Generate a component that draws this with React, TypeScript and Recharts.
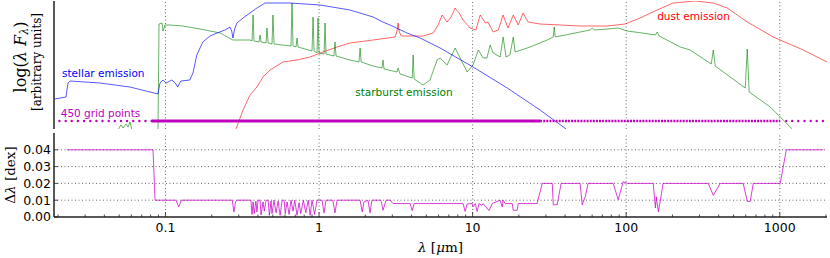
import React from 'react';
import { LineChart, Line, XAxis, YAxis, ReferenceLine, ReferenceDot } from 'recharts';

// wavelength axis in micron (log scale)
const lambdaRange: [number, number] = [0.0188, 2030];
const lambdaTicks = [
  0.02, 0.03, 0.04, 0.05, 0.06, 0.07, 0.08, 0.09, 0.1, 0.2, 0.3, 0.4, 0.5, 0.6, 0.7, 0.8, 0.9, 1, 2, 3, 4, 5, 6,
  7, 8, 9, 10, 20, 30, 40, 50, 60, 70, 80, 90, 100, 200, 300, 400, 500, 600, 700, 800, 900, 1000, 2000,
];
const decades = [0.1, 1, 10, 100, 1000];

// top panel: log(lambda F_lambda), arbitrary units
const fluxRange: [number, number] = [0, 12.8];
const stellar: [number, number][] = [
  [0.019, 3.0], [0.0225, 3.2], [0.0232, 4.6], [0.0239, 4.8], [0.0374, 4.6], [0.0587, 4.2], [0.0894, 3.5],
  [0.0921, 4.6], [0.0964, 4.9], [0.101, 4.6], [0.104, 4.7], [0.11, 4.9], [0.116, 4.6], [0.12, 4.2], [0.126, 4.8],
  [0.144, 4.9], [0.151, 5.6], [0.16, 7.4], [0.175, 8.7], [0.195, 9.3], [0.217, 9.6], [0.244, 9.9], [0.263, 10.2],
  [0.27, 9.8], [0.275, 9.1], [0.282, 10.0], [0.292, 10.6], [0.32, 11.1], [0.355, 11.6], [0.394, 12.1],
  [0.445, 12.6], [0.647, 12.6], [1.015, 12.4], [1.59, 11.9], [2.25, 11.2], [2.6, 10.7], [2.9, 10.4], [3.74, 9.6],
  [4.55, 9.1], [6.14, 8.1], [10.07, 6.2], [16.8, 4.1], [27.5, 1.9], [40.6, 0],
];
const starburst: [number, number][] = [
  [0.049, -0.1], [0.0513, 0.4], [0.0529, 0.1], [0.0553, 0.5], [0.057, 0.2], [0.0587, 0.7], [0.0605, -0.1],
  [0.0894, -0.2], [0.0908, 10.5], [0.0949, 10.6], [0.0964, 9.8], [0.0993, 10.4], [0.107, 10.4], [0.13, 10.3],
  [0.168, 10.0], [0.227, 9.6], [0.275, 8.9], [0.355, 8.9], [0.366, 8.8], [0.372, 11.4], [0.377, 8.8],
  [0.407, 8.7], [0.413, 9.4], [0.419, 8.7], [0.452, 8.6], [0.458, 10.1], [0.466, 8.6], [0.494, 8.5],
  [0.501, 11.4], [0.509, 8.5], [0.657, 8.3], [0.667, 12.6], [0.677, 8.3], [0.708, 8.2], [0.719, 9.1],
  [0.73, 8.2], [0.9, 7.8], [0.914, 11.2], [0.928, 7.8], [0.97, 7.6], [0.985, 11.1], [1.0, 7.6], [1.078, 7.5],
  [1.094, 10.6], [1.11, 7.5], [1.25, 7.3], [1.27, 8.7], [1.29, 7.3], [1.59, 6.9], [1.82, 6.7], [1.85, 8.1],
  [1.88, 6.7], [2.25, 6.3], [2.57, 6.1], [2.61, 6.9], [2.65, 6.0], [3.22, 5.7], [3.27, 6.1], [3.37, 5.5],
  [4.04, 5.1], [4.1, 7.4], [4.16, 5.0], [4.76, 4.4], [5.28, 4.9], [5.87, 6.9], [6.14, 7.1], [6.82, 6.4],
  [7.69, 8.1], [8.29, 7.1], [9.21, 5.7], [10.07, 6.4], [10.9, 7.9], [11.7, 7.1], [12.4, 7.1], [13.0, 8.4],
  [13.6, 7.6], [15.1, 7.2], [15.8, 9.2], [16.5, 7.2], [17.5, 7.4], [18.4, 9.2], [18.9, 7.7], [23.7, 8.2],
  [30.6, 8.9], [33.5, 9.2], [34.0, 10.2], [34.5, 9.2], [50.1, 9.7], [58.3, 9.9], [60.1, 10.1], [61.9, 9.9],
  [75.2, 10.0], [88.7, 10.1], [101.6, 9.8], [127, 9.6], [155, 9.4], [159, 9.7], [164, 9.3], [225, 8.2],
  [261, 7.9], [358, 6.5], [369, 7.9], [380, 6.3], [596, 4.1], [614, 8.0], [632, 3.7], [867, 2.2], [1007, 1.2],
  [1206, 0],
];
const dust: [number, number][] = [
  [0.288, 0], [0.32, 1.9], [0.355, 3.4], [0.394, 4.2], [0.432, 5.2], [0.48, 5.9], [0.582, 6.7], [0.719, 6.9],
  [0.874, 7.2], [1.06, 7.7], [1.31, 8.2], [1.59, 8.6], [2.25, 8.9], [3.13, 9.2], [3.22, 9.8], [3.27, 10.6],
  [3.32, 9.8], [3.42, 9.3], [4.76, 9.3], [5.53, 9.6], [5.96, 10.4], [6.33, 11.4], [6.82, 10.7], [7.24, 11.2],
  [7.69, 12.1], [8.17, 11.6], [8.67, 10.9], [9.63, 10.1], [10.5, 9.9], [11.2, 11.4], [12.1, 10.6], [12.6, 10.7],
  [13.6, 9.7], [14.7, 9.9], [15.8, 11.4], [17.0, 10.1], [18.4, 11.4], [19.8, 10.4], [21.3, 11.6], [23.0, 10.7],
  [27.5, 10.5], [37.2, 10.4], [50.1, 10.3], [75.2, 10.3], [98.5, 10.5], [123, 11.1], [159, 11.9], [202, 12.6],
  [282, 12.8], [369, 12.6], [455, 12.1], [614, 10.7], [907, 9.2], [1007, 8.9], [1422, 7.9], [2030, 6.7],
];

// the 450-point wavelength grid
const gridLevel = 0.8;
const gridSparseLo = [
  0.0204, 0.0224, 0.0245, 0.0269, 0.0295, 0.0324, 0.0355, 0.0389, 0.0427, 0.0468, 0.0513, 0.0562, 0.0617,
  0.0676, 0.0741, 0.0813,
];
const gridFine = [0.0813, 27.5];
const gridMedium = [27.5, 1007];
const gridSparseHi = [1103, 1205, 1320, 1450, 1590, 1740, 1910];

// bottom panel: grid step in dex
const stepRange: [number, number] = [0, 0.05];
const stepTicks = [0, 0.01, 0.02, 0.03, 0.04];
const stepGrid = [0.01, 0.02, 0.03, 0.04];
const gridStep: [number, number][] = [
  [0.0228, 0.04], [0.083, 0.04], [0.0855, 0.01], [0.117, 0.01], [0.122, 0.006], [0.127, 0.01], [0.272, 0.01],
  [0.279, 0.003], [0.286, 0.009], [0.292, 0.01], [0.36, 0.01], [0.366, 0.0015], [0.372, 0.009], [0.378, 0.002],
  [0.388, 0.0095], [0.394, 0.003], [0.401, 0.01], [0.413, 0.01], [0.419, 0.0012], [0.432, 0.009], [0.44, 0.0035],
  [0.452, 0.01], [0.466, 0.01], [0.475, 0.001], [0.487, 0.0095], [0.494, 0.002], [0.509, 0.01], [0.525, 0.0025],
  [0.541, 0.0095], [0.558, 0.001], [0.575, 0.01], [0.592, 0.01], [0.603, 0.002], [0.619, 0.009], [0.638, 0.0015],
  [0.657, 0.01], [0.677, 0.0035], [0.695, 0.01], [0.719, 0.001], [0.741, 0.0085], [0.76, 0.002], [0.79, 0.01],
  [0.82, 0.0025], [0.85, 0.01], [0.875, 0.001], [0.9, 0.01], [0.935, 0.0015], [0.97, 0.01], [1.046, 0.01],
  [1.078, 0.0024], [1.11, 0.01], [1.23, 0.01], [1.27, 0.0025], [1.31, 0.01], [1.85, 0.01], [1.91, 0.003],
  [1.96, 0.009], [2.08, 0.01], [2.15, 0.0025], [2.21, 0.01], [2.53, 0.01], [2.61, 0.004], [2.73, 0.01],
  [2.9, 0.01], [3.03, 0.008], [3.92, 0.008], [4.04, 0.0038], [4.16, 0.008], [8.67, 0.008], [8.94, 0.0033],
  [9.21, 0.0078], [9.93, 0.008], [10.07, 0.006], [10.4, 0.008], [10.7, 0.0033], [11.0, 0.008], [11.5, 0.007],
  [11.7, 0.008], [12.8, 0.0038], [13.4, 0.008], [15.1, 0.01], [15.6, 0.006], [15.8, 0.01], [16.3, 0.008],
  [18.1, 0.008], [18.4, 0.004], [19.5, 0.004], [19.8, 0.008], [26.3, 0.008], [28.4, 0.02], [33.0, 0.02],
  [33.5, 0.0073], [35.5, 0.0073], [37.7, 0.02], [50.1, 0.02], [51.7, 0.0073], [54.1, 0.012], [56.5, 0.02],
  [82.3, 0.02], [88.7, 0.0103], [95.6, 0.021], [101.6, 0.02], [150, 0.02], [155, 0.0054], [157, 0.012],
  [162, 0.003], [174, 0.02], [342, 0.02], [369, 0.0129], [410, 0.02], [578, 0.02], [614, 0.0093],
  [642, 0.0093], [672, 0.02], [1007, 0.02], [1103, 0.04], [1920, 0.04],
];

const FRAME = '#222';
const SANS = 'DejaVu Sans, sans-serif';
const SERIF = 'DejaVu Serif, serif';
const MAGENTA = '#bf00bf';

const pts = (a: [number, number][]) => a.map(([x, y]) => ({ x, y }));
const level = (xs: number[], y: number) => xs.map(x => ({ x, y }));
const isDecade = (v: number) => decades.some(d => Math.abs(v / d - 1) < 1e-6);

function XTick({ x, y, payload, dir, showLabel }: any) {
  const v = payload.value;
  const major = isDecade(v);
  const len = major ? 5 : 2.5;
  return (
    <g>
      <line x1={x} x2={x} y1={y} y2={y + dir * len} stroke={FRAME} strokeWidth={0.8} />
      {showLabel && major && (
        <text x={x} y={y + 14.5} textAnchor="middle" fontSize={12.5} fontFamily={SANS} fill="#000">
          {String(v)}
        </text>
      )}
    </g>
  );
}

function YTick({ x, y, payload, dir, showLabel }: any) {
  return (
    <g>
      <line x1={x} x2={x + dir * 4} y1={y} y2={y} stroke={FRAME} strokeWidth={0.8} />
      {showLabel && (
        <text x={x - 3} y={y + 4.4} textAnchor="end" fontSize={12.5} fontFamily={SANS} fill="#000">
          {payload.value.toFixed(2)}
        </text>
      )}
    </g>
  );
}

function FluxTitle(props: any) {
  const vb = props.viewBox;
  const cy = vb.y + vb.height / 2;
  return (
    <g fontFamily={SERIF} fill="#000">
      <text
        transform={`translate(${vb.x + 20},${cy - 8}) rotate(-90)`}
        textAnchor="middle"
        dominantBaseline="central"
        fontSize={16}
      >
        log(<tspan fontStyle="italic">λ F</tspan>
        <tspan fontStyle="italic" fontSize={11} dy={4}>λ</tspan>
        <tspan dy={-4}>)</tspan>
      </text>
      <text
        transform={`translate(${vb.x + 37},${cy - 3}) rotate(-90)`}
        textAnchor="middle"
        dominantBaseline="central"
        fontSize={12}
      >
        [arbitrary units]
      </text>
    </g>
  );
}

function StepTitle(props: any) {
  const vb = props.viewBox;
  return (
    <text
      transform={`translate(${vb.x + 10},${vb.y + vb.height / 2}) rotate(-90)`}
      textAnchor="middle"
      dominantBaseline="central"
      fontSize={13.5}
      fontFamily={SERIF}
      fill="#000"
    >
      Δ<tspan fontStyle="italic">λ</tspan> [dex]
    </text>
  );
}

function LambdaTitle(props: any) {
  const vb = props.viewBox;
  return (
    <text x={vb.x + vb.width / 2} y={vb.y + 35} textAnchor="middle" fontSize={13.5} fontFamily={SERIF} fill="#000">
      <tspan fontStyle="italic">λ</tspan> [<tspan fontStyle="italic">μ</tspan>m]
    </text>
  );
}

const tag = (text: string, color: string) => (p: any) => (
  <text x={p.cx} y={p.cy} fontSize={10.5} fontFamily={SANS} fill={color}>
    {text}
  </text>
);

const axisLine = { stroke: FRAME, strokeWidth: 1.5 };

function xAxes(withLabels: boolean) {
  return [
    <XAxis
      key="b"
      xAxisId="b"
      dataKey="x"
      type="number"
      scale="log"
      domain={lambdaRange}
      allowDataOverflow
      ticks={lambdaTicks}
      interval={0}
      height={withLabels ? 41 : 0}
      tickLine={false}
      tickSize={0}
      tickMargin={0}
      tick={(p: any) => <XTick {...p} dir={-1} showLabel={withLabels} />}
      axisLine={axisLine}
      label={withLabels ? { content: (p: any) => <LambdaTitle {...p} /> } : undefined}
    />,
    <XAxis
      key="t"
      xAxisId="t"
      orientation="top"
      dataKey="x"
      type="number"
      scale="log"
      domain={lambdaRange}
      allowDataOverflow
      ticks={lambdaTicks}
      interval={0}
      height={0}
      tickLine={false}
      tickSize={0}
      tickMargin={0}
      tick={(p: any) => <XTick {...p} dir={1} showLabel={false} />}
      axisLine={axisLine}
    />,
  ];
}

export default function App() {
  const lineProps = { xAxisId: 'b', yAxisId: 'l', dataKey: 'y', type: 'linear' as const, dot: false, isAnimationActive: false };
  return (
    <div style={{ position: 'absolute', left: 0, top: 0, width: 830, height: 258, background: '#fff' }}>
      <div style={{ position: 'absolute', left: 0, top: 0 }}>
        <LineChart width={830} height={130} margin={{ top: 1, right: 3, bottom: 1, left: 0 }}>
          {xAxes(false)}
          <YAxis
            yAxisId="l"
            type="number"
            domain={fluxRange}
            allowDataOverflow
            width={54}
            tick={false}
            tickLine={false}
            axisLine={axisLine}
            label={{ content: (p: any) => <FluxTitle {...p} /> }}
          />
          <YAxis yAxisId="r" orientation="right" type="number" domain={fluxRange} allowDataOverflow width={0} tick={false} tickLine={false} axisLine={axisLine} />
          {decades.map(d => (
            <ReferenceLine key={d} xAxisId="b" yAxisId="l" x={d} stroke="#444" strokeDasharray="1 2.5" strokeWidth={0.8} />
          ))}
          <Line {...lineProps} data={pts(dust)} stroke="#ff0000" strokeOpacity={0.6} strokeWidth={1} />
          <Line {...lineProps} data={pts(starburst)} stroke="#008000" strokeOpacity={0.6} strokeWidth={1} />
          <Line {...lineProps} data={pts(stellar)} stroke="#0000ff" strokeOpacity={0.65} strokeWidth={1} />
          <Line {...lineProps} data={level(gridFine, gridLevel)} stroke={MAGENTA} strokeWidth={3} />
          <Line {...lineProps} data={level(gridMedium, gridLevel)} stroke={MAGENTA} strokeWidth={2.5} strokeDasharray="2 1.1" />
          <Line {...lineProps} data={level(gridSparseLo, gridLevel)} stroke="none" dot={{ r: 1.2, fill: MAGENTA, stroke: 'none' }} />
          <Line {...lineProps} data={level(gridSparseHi, gridLevel)} stroke="none" dot={{ r: 1.2, fill: MAGENTA, stroke: 'none' }} />
          <ReferenceDot xAxisId="b" yAxisId="l" x={0.0212} y={5.25} r={0} shape={tag('stellar emission', '#0000ff')} />
          <ReferenceDot xAxisId="b" yAxisId="l" x={0.0208} y={1.2} r={0} shape={tag('450 grid points', MAGENTA)} />
          <ReferenceDot xAxisId="b" yAxisId="l" x={1.72} y={3.3} r={0} shape={tag('starburst emission', '#008000')} />
          <ReferenceDot xAxisId="b" yAxisId="l" x={159} y={10.9} r={0} shape={tag('dust emission', '#ff0000')} />
        </LineChart>
      </div>
      <div style={{ position: 'absolute', left: 0, top: 131 }}>
        <LineChart width={830} height={127} margin={{ top: 2, right: 3, bottom: 0, left: 0 }}>
          {xAxes(true)}
          <YAxis
            yAxisId="l"
            type="number"
            domain={stepRange}
            allowDataOverflow
            ticks={stepTicks}
            interval={0}
            width={54}
            tickLine={false}
            tickSize={0}
            tickMargin={0}
            tick={(p: any) => <YTick {...p} dir={1} showLabel />}
            axisLine={axisLine}
            label={{ content: (p: any) => <StepTitle {...p} /> }}
          />
          <YAxis
            yAxisId="r"
            orientation="right"
            type="number"
            domain={stepRange}
            allowDataOverflow
            ticks={stepTicks}
            interval={0}
            width={0}
            tickLine={false}
            tickSize={0}
            tickMargin={0}
            tick={(p: any) => <YTick {...p} dir={-1} showLabel={false} />}
            axisLine={axisLine}
          />
          {decades.map(d => (
            <ReferenceLine key={d} xAxisId="b" yAxisId="l" x={d} stroke="#444" strokeDasharray="1 2.5" strokeWidth={0.8} />
          ))}
          {stepGrid.map(g => (
            <ReferenceLine key={g} xAxisId="b" yAxisId="l" y={g} stroke="#444" strokeDasharray="1 2.5" strokeWidth={0.8} />
          ))}
          <Line {...lineProps} data={pts(gridStep)} stroke="#cc00cc" strokeOpacity={0.75} strokeWidth={1} />
        </LineChart>
      </div>
    </div>
  );
}
